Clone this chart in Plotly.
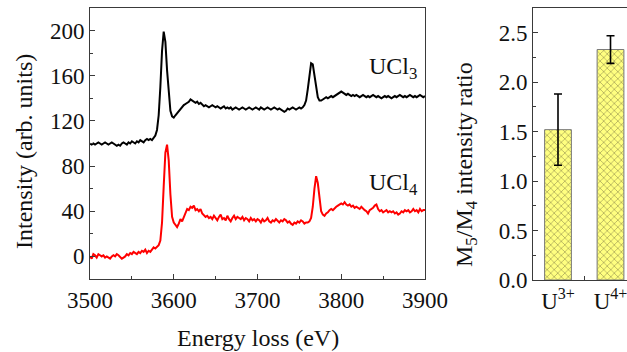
import plotly.graph_objects as go

# ---------------- data ----------------
energy = list(range(3500, 3902, 2))  # eV sampling grid

ucl3 = [
    100, 99, 100, 99, 100, 101, 100, 99, 100, 101,
    100, 99, 100, 101, 100, 99, 98, 99, 98, 100,
    101, 100, 99, 101, 100, 102, 101, 100, 102, 101,
    103, 102, 101, 103, 104, 103, 104, 103, 105, 107,
    112, 125, 150, 182, 199, 190, 165, 142, 129, 124,
    123, 125, 127, 129, 131, 132, 134, 135, 136, 137,
    139, 138, 137, 136, 137, 135, 136, 134, 133, 134,
    133, 132, 133, 134, 133, 132, 133, 132, 131, 132,
    133, 131, 132, 131, 132, 130, 131, 132, 131, 130,
    131, 132, 131, 130, 131, 132, 131, 130, 131, 132,
    131, 130, 132, 131, 130, 131, 132, 131, 130, 131,
    132, 131, 130, 131, 130, 129, 128, 129, 131, 130,
    131, 132, 131, 130, 131, 132, 131, 132, 134, 138,
    148, 162, 171, 170, 160, 148, 141, 138, 138, 139,
    140, 141, 140, 141, 142, 141, 142, 143, 144, 145,
    146, 145, 144, 143, 144, 143, 142, 143, 142, 143,
    142, 141, 142, 143, 142, 141, 142, 141, 142, 143,
    142, 141, 142, 141, 140, 141, 142, 141, 142, 141,
    140, 141, 142, 141, 142, 143, 142, 141, 142, 141,
    142, 143, 142, 141, 142, 141, 142, 143, 142, 141,
    142,
]

ucl4 = [
    0, -2, 2, 1, -1, 2, 1, 0, 1, -1,
    0, -1, -2, 0, 1, 0, 2, 1, -1, -2,
    -1, 0, 2, 1, 3, 2, 4, 3, 2, 4,
    3, 5, 4, 6, 3, 5, 4, 6, 8, 7,
    9, 10, 14, 30, 62, 92, 99, 85, 55, 35,
    30, 28, 26, 29, 33, 31, 35, 38, 42, 41,
    44, 43, 45, 41, 42, 40, 42, 38, 36, 35,
    36, 34, 35, 33, 36, 34, 32, 35, 37, 33,
    34, 32, 36, 33, 31, 34, 36, 33, 35, 34,
    33, 35, 32, 34, 33, 31, 34, 32, 33, 31,
    33, 32, 30, 33, 31, 32, 34, 31, 30, 32,
    31, 33, 31, 30, 32, 31, 33, 32, 30, 31,
    29, 28, 30, 29, 31, 30, 32, 31, 29, 30,
    30, 31, 34, 44, 60, 71, 65, 49, 40, 37,
    36, 38, 39, 41, 42, 41, 43, 44, 45, 46,
    47, 46, 48, 46, 45, 46, 44, 45, 43, 44,
    43, 42, 44, 42, 41, 40, 38, 41, 42, 43,
    45, 46, 42, 40, 41, 39, 40, 41, 39, 40,
    39, 40, 38, 39, 37, 38, 40, 39, 41, 40,
    41, 39, 40, 42, 40, 41, 39, 42, 40, 41,
    41,
]

ions = ["U<sup>3+</sup>", "U<sup>4+</sup>"]
ratio = [1.52, 2.33]
ratio_err = [0.36, 0.14]

x_ticks = [3500, 3600, 3700, 3800, 3900]
x_labels = ["3500", "3600", "3700", "3800", "3900"]
y_ticks = [0, 40, 80, 120, 160, 200]
y_labels = ["0", "40", "80", "120", "160", "200"]
r_ticks = [0.0, 0.5, 1.0, 1.5, 2.0, 2.5]
r_labels = ["0.0", "0.5", "1.0", "1.5", "2.0", "2.5"]

FONT = "Liberation Serif"
AX = "#3a3a3a"
TXT = "#111111"

fig = go.Figure()

fig.add_trace(go.Scatter(x=energy, y=ucl3, mode="lines",
                         line=dict(color="#000000", width=2),
                         xaxis="x", yaxis="y", showlegend=False))
fig.add_trace(go.Scatter(x=energy, y=ucl4, mode="lines",
                         line=dict(color="#ff0000", width=2),
                         xaxis="x", yaxis="y", showlegend=False))

fig.add_trace(go.Bar(
    x=[0, 1], y=ratio, width=0.51,
    marker=dict(color="#ffff80",
                line=dict(color="#777777", width=1),
                pattern=dict(shape="x", fgcolor="#a39e55", bgcolor="#ffff80",
                             size=5, solidity=0.25)),
    error_y=dict(type="data", array=ratio_err, visible=True,
                 color="#000000", thickness=1.6, width=4),
    xaxis="x2", yaxis="y2", showlegend=False))

tickfont = dict(family=FONT, size=23, color=TXT)


def axis_common():
    return dict(showgrid=False, zeroline=False, automargin=False,
                linecolor=AX, linewidth=1, tickcolor=AX,
                ticklabeloverflow="allow",
                tickfont=dict(tickfont))


fig.update_layout(
    template="none",
    font=dict(family=FONT, size=23, color=TXT),
    width=627, height=352,
    margin=dict(l=0, r=0, t=0, b=0, pad=0),
    paper_bgcolor="white", plot_bgcolor="white",
    xaxis=dict(domain=[90/627, 425/627], range=[3500, 3900], anchor="y",
               tickmode="array", tickvals=x_ticks, ticktext=x_labels,
               ticks="inside", ticklen=5,
               minor=dict(tickmode="linear", tick0=3500, dtick=50,
                          ticks="inside", ticklen=3, tickcolor=AX),
               showline=True, mirror=True, **axis_common()),
    yaxis=dict(domain=[73/352, 344/352], range=[-20, 220], anchor="x",
               tickmode="array", tickvals=y_ticks, ticktext=y_labels,
               ticks="inside", ticklen=5,
               minor=dict(tickmode="linear", tick0=0, dtick=20,
                          ticks="inside", ticklen=3, tickcolor=AX),
               showline=True, mirror=True, **axis_common()),
    xaxis2=dict(domain=[533/627, 1.0], range=[-0.476, 1.314], anchor="y2",
                tickmode="array", tickvals=[0, 1], ticktext=ions,
                ticks="",
                minor=dict(tickmode="array", tickvals=[0.5],
                           ticks="inside", ticklen=4, tickcolor=AX),
                showline=True, mirror=True, **axis_common()),
    yaxis2=dict(domain=[72/352, 344/352], range=[0, 2.75], anchor="x2",
                tickmode="array", tickvals=r_ticks, ticktext=r_labels,
                ticks="inside", ticklen=5,
                minor=dict(tickmode="linear", tick0=0, dtick=0.25,
                           ticks="inside", ticklen=3, tickcolor=AX),
                showline=True, mirror=False, **axis_common()),
    annotations=[
        dict(text="Energy loss (eV)", xref="paper", yref="paper",
             x=258/627, y=1 - 338/352, xanchor="center", yanchor="middle",
             showarrow=False, font=dict(family=FONT, size=24, color=TXT)),
        dict(text="Intensity (arb. units)", xref="paper", yref="paper",
             x=24/627, y=1 - 152/352, xanchor="center", yanchor="middle",
             textangle=-90, showarrow=False,
             font=dict(family=FONT, size=24, color=TXT)),
        dict(text="M<sub>5</sub>/M<sub>4</sub> intensity ratio",
             xref="paper", yref="paper",
             x=466/627, y=1 - 165/352, xanchor="center", yanchor="middle",
             textangle=-90, showarrow=False,
             font=dict(family=FONT, size=24, color=TXT)),
        dict(text="UCl<sub>3</sub>", xref="x", yref="y", x=3862, y=167,
             xanchor="center", yanchor="middle",
             showarrow=False, font=dict(family=FONT, size=24, color=TXT)),
        dict(text="UCl<sub>4</sub>", xref="x", yref="y", x=3862, y=64,
             xanchor="center", yanchor="middle",
             showarrow=False, font=dict(family=FONT, size=24, color=TXT)),
    ],
)

fig.write_html("out.html")
